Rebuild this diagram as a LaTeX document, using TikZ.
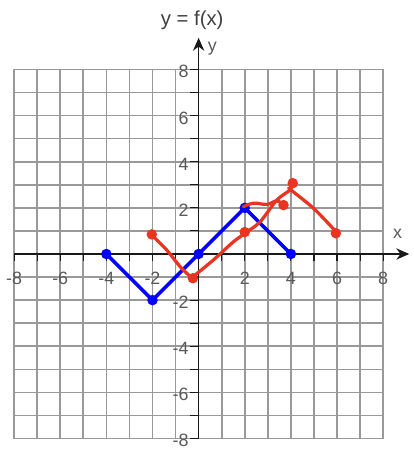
\documentclass[tikz,border=0pt]{standalone}
\usepackage{fontspec}
\setmainfont{Liberation Sans}
\usepackage{xcolor}
\usetikzlibrary{arrows.meta}
\definecolor{penred}{RGB}{232,52,32}

\begin{document}
\begin{tikzpicture}[
    x=0.5cm, y=0.5cm,
    every node/.style={font=\fontsize{11}{13}\selectfont, text=black!65},
    gridline/.style={draw=black!40, line width=1pt},
    axis/.style={draw=black!90, line width=0.8pt, -{Stealth[length=8pt,width=7pt]}},
    tickmark/.style={draw=black!90, line width=0.7pt},
    fline/.style={draw=blue, line width=2.2pt, line join=round},
    fdot/.style={circle, fill=blue, inner sep=0pt, minimum size=6.5pt},
    pen/.style={draw=penred, line width=2pt, line cap=round, line join=round},
    pendot/.style={circle, fill=penred, inner sep=0pt, minimum size=6.5pt}
]
\useasboundingbox (-8.61,-8.54) rectangle (9.30,11.01);

% Grid
\draw [gridline, step=0.5cm] (-8,-8) grid (8,8);

% Axes
\draw [axis] (-8,0) -- (9.13,0);
\draw [axis] (0,-8) -- (0,9.37);
\foreach \t in {-8,...,8} {
    \draw [tickmark] (\t,0) -- (\t,-0.32);
    \draw [tickmark] (0,\t) -- (-0.38,\t);
}

% Tick labels
\foreach \t in {-8,-6,-4,-2,2,4,6,8} {
    \node (xl\t) at (\t,-1.05) {\t};
    \node (yl\t) [anchor=east, inner sep=0pt] at (-0.42,\t-0.1) {\t};
}
\node (xlab) at (8.63,0.87) {x};
\node (ylab) at (0.59,8.89) {y};
\node (title) [font=\fontsize{12.5}{14}\selectfont, text=black!75] at (-0.28,10.15) {y = f(x)};

% f(x)
\draw [fline] (-4,0) -- (-2,-2) -- (0,0) -- (2,2) -- (4,0);
\foreach \p in {(-4,0),(-2,-2),(0,0),(2,2),(4,0)}
    \node [fdot] at \p {};

% Hand sketch
\draw [pen] plot [smooth, tension=0.6] coordinates {(-2.03,0.82) (-1.38,0.17) (-0.80,-0.55) (-0.30,-1.03)};
\draw [pen] plot [smooth, tension=0.5] coordinates {(-0.30,-1.03) (0.64,-0.26) (1.51,0.53) (2.02,0.90) (2.67,1.40) (3.39,2.34) (3.97,2.78) (4.08,3.05)};
\draw [pen] plot [smooth, tension=0.6] coordinates {(3.90,2.85) (4.98,1.98) (5.95,0.97)};
\draw [pen] plot [smooth, tension=0.7] coordinates {(1.94,2.05) (2.38,2.20) (2.96,2.15) (3.39,2.30) (3.68,2.12)};
\node (r1) [pendot] at (-2.03,0.85) {};
\node (r2) [pendot] at (-0.25,-1.05) {};
\node (r3) [pendot] at (2.0,0.95) {};
\node (r4) [pendot] at (3.68,2.12) {};
\node (r5) [pendot] at (4.08,3.07) {};
\node (r6) [pendot] at (5.95,0.90) {};

\end{tikzpicture}
\end{document}
